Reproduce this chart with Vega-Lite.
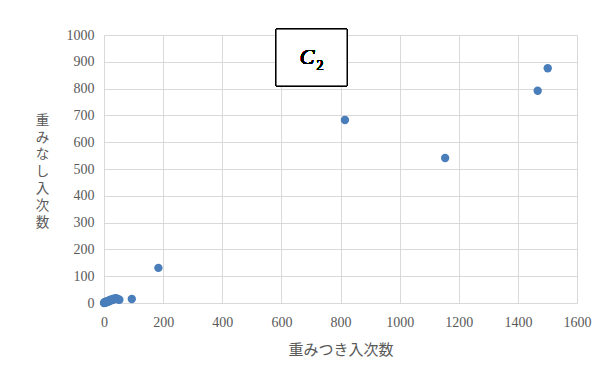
{
  "$schema": "https://vega.github.io/schema/vega-lite/v6.json",
  "autosize": {"type": "none"},
  "width": 473,
  "height": 268,
  "padding": {"left": 104, "top": 35, "right": 33, "bottom": 64},
  "background": "white",
  "config": {
    "view": {"stroke": null},
    "axis": {
      "grid": true,
      "gridColor": "#d9d9d9",
      "gridWidth": 1,
      "ticks": false,
      "domain": false,
      "format": "d",
      "labelOverlap": false,
      "labelFlush": false,
      "labelFont": "Liberation Serif",
      "labelFontSize": 14,
      "labelColor": "#595959",
      "titleFont": "Noto Sans CJK JP",
      "titleFontWeight": "normal",
      "titleFontSize": 15,
      "titleColor": "#595959"
    }
  },
  "data": {
    "values": [
      {"weighted": 0, "unweighted": 0},
      {"weighted": 1, "unweighted": 1},
      {"weighted": 2, "unweighted": 2},
      {"weighted": 3, "unweighted": 1},
      {"weighted": 4, "unweighted": 4},
      {"weighted": 5, "unweighted": 2},
      {"weighted": 6, "unweighted": 5},
      {"weighted": 8, "unweighted": 3},
      {"weighted": 10, "unweighted": 6},
      {"weighted": 12, "unweighted": 4},
      {"weighted": 14, "unweighted": 8},
      {"weighted": 16, "unweighted": 6},
      {"weighted": 18, "unweighted": 10},
      {"weighted": 20, "unweighted": 8},
      {"weighted": 22, "unweighted": 12},
      {"weighted": 25, "unweighted": 10},
      {"weighted": 28, "unweighted": 14},
      {"weighted": 30, "unweighted": 12},
      {"weighted": 33, "unweighted": 16},
      {"weighted": 36, "unweighted": 15},
      {"weighted": 40, "unweighted": 18},
      {"weighted": 44, "unweighted": 16},
      {"weighted": 48, "unweighted": 14},
      {"weighted": 52, "unweighted": 12},
      {"weighted": 94, "unweighted": 15},
      {"weighted": 184, "unweighted": 131},
      {"weighted": 815, "unweighted": 683},
      {"weighted": 1154, "unweighted": 541},
      {"weighted": 1467, "unweighted": 792},
      {"weighted": 1501, "unweighted": 876}
    ]
  },
  "layer": [
    {
      "mark": {"type": "point", "filled": true, "opacity": 1, "size": 70, "color": "#4a7ebb"},
      "encoding": {
        "x": {
          "field": "weighted",
          "type": "quantitative",
          "scale": {"domain": [0, 1600], "nice": false},
          "axis": {"values": [0, 200, 400, 600, 800, 1000, 1200, 1400, 1600], "labelPadding": 12, "title": "重みつき入次数", "titlePadding": 13}
        },
        "y": {
          "field": "unweighted",
          "type": "quantitative",
          "scale": {"domain": [0, 1000], "nice": false},
          "axis": {
            "values": [0, 100, 200, 300, 400, 500, 600, 700, 800, 900, 1000],
            "labelPadding": 10,
            "title": ["重", "み", "な", "し", "入", "次", "数"],
            "titleFontSize": 13.5,
            "titleAngle": 0,
            "titleLineHeight": 17,
            "titleBaseline": "middle",
            "titleAlign": "center",
            "titleX": -62,
            "titleY": 85
          }
        }
      }
    },
    {
      "mark": {"type": "rect", "fill": "white", "stroke": "black", "strokeWidth": 1, "clip": false},
      "encoding": {
        "x": {
          "datum": 582,
          "type": "quantitative",
          "axis": {"values": [0, 200, 400, 600, 800, 1000, 1200, 1400, 1600], "labelPadding": 12, "title": "重みつき入次数", "titlePadding": 13}
        },
        "x2": {"datum": 822},
        "y": {
          "datum": 810,
          "type": "quantitative",
          "axis": {
            "values": [0, 100, 200, 300, 400, 500, 600, 700, 800, 900, 1000],
            "labelPadding": 10,
            "title": ["重", "み", "な", "し", "入", "次", "数"],
            "titleFontSize": 13.5,
            "titleAngle": 0,
            "titleLineHeight": 17,
            "titleBaseline": "middle",
            "titleAlign": "center",
            "titleX": -62,
            "titleY": 85
          }
        },
        "y2": {"datum": 1022}
      }
    },
    {
      "mark": {"type": "text", "text": "C", "font": "Liberation Serif", "fontStyle": "italic", "fontWeight": "normal", "fontSize": 22, "fill": "#000000", "align": "center", "baseline": "middle"},
      "encoding": {
        "x": {
          "datum": 687,
          "type": "quantitative",
          "axis": {"values": [0, 200, 400, 600, 800, 1000, 1200, 1400, 1600], "labelPadding": 12, "title": "重みつき入次数", "titlePadding": 13}
        },
        "y": {
          "datum": 918,
          "type": "quantitative",
          "axis": {
            "values": [0, 100, 200, 300, 400, 500, 600, 700, 800, 900, 1000],
            "labelPadding": 10,
            "title": ["重", "み", "な", "し", "入", "次", "数"],
            "titleFontSize": 13.5,
            "titleAngle": 0,
            "titleLineHeight": 17,
            "titleBaseline": "middle",
            "titleAlign": "center",
            "titleX": -62,
            "titleY": 85
          }
        }
      }
    },
    {
      "mark": {"type": "text", "text": "2", "font": "Liberation Serif", "fontWeight": "normal", "fontSize": 14, "fill": "#000000", "align": "center", "baseline": "middle"},
      "encoding": {
        "x": {
          "datum": 731,
          "type": "quantitative",
          "axis": {"values": [0, 200, 400, 600, 800, 1000, 1200, 1400, 1600], "labelPadding": 12, "title": "重みつき入次数", "titlePadding": 13}
        },
        "y": {
          "datum": 884,
          "type": "quantitative",
          "axis": {
            "values": [0, 100, 200, 300, 400, 500, 600, 700, 800, 900, 1000],
            "labelPadding": 10,
            "title": ["重", "み", "な", "し", "入", "次", "数"],
            "titleFontSize": 13.5,
            "titleAngle": 0,
            "titleLineHeight": 17,
            "titleBaseline": "middle",
            "titleAlign": "center",
            "titleX": -62,
            "titleY": 85
          }
        }
      }
    }
  ]
}
